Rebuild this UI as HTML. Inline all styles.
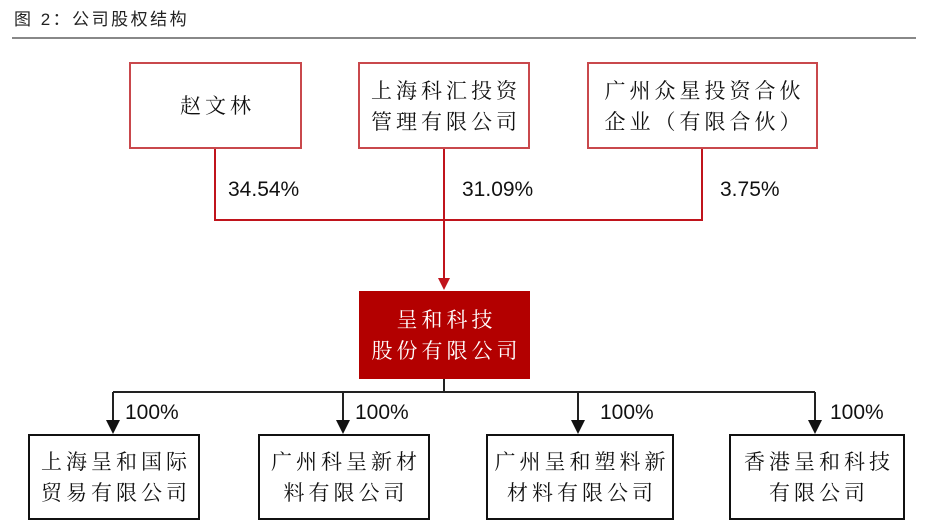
<!DOCTYPE html>
<html><head><meta charset="utf-8"><style>
body{margin:0;width:927px;height:526px;background:#fff;position:relative;overflow:hidden;font-family:"Liberation Sans","Noto Serif CJK SC","Noto Sans CJK SC",serif;}
.t{position:absolute;left:14px;top:5px;font-size:17px;letter-spacing:2.5px;color:#222;font-family:"Liberation Sans","Noto Sans CJK SC",sans-serif;}
.hr{position:absolute;left:12px;top:37px;width:904px;height:2px;background:#888;}
.b{position:absolute;box-sizing:border-box;display:flex;align-items:center;justify-content:center;text-align:center;font-size:21px;line-height:31px;color:#111;letter-spacing:4px;padding-left:4px;white-space:nowrap;font-family:"Noto Serif CJK SC",serif;}
.r{border:2px solid #c9484c;}
.k{border:2px solid #111;}
.p{position:absolute;font-size:21px;color:#111;background:#fff;}
</style></head><body>
<div class="t">图 2：公司股权结构</div>
<div class="hr"></div>
<svg width="927" height="526" style="position:absolute;left:0;top:0">
<g stroke="#c0141c" stroke-width="2" fill="none">
<polyline points="215,148 215,220 702,220 702,148"/>
<line x1="444" y1="148" x2="444" y2="280"/>
</g>
<polygon points="438,278 450,278 444,290" fill="#c0141c"/>
<g stroke="#222" stroke-width="2" fill="none">
<line x1="444" y1="378" x2="444" y2="392"/>
<line x1="113" y1="392" x2="815" y2="392"/>
<line x1="113" y1="392" x2="113" y2="425"/>
<line x1="343" y1="392" x2="343" y2="425"/>
<line x1="578" y1="392" x2="578" y2="425"/>
<line x1="815" y1="392" x2="815" y2="425"/>
</g>
<g fill="#111">
<polygon points="106,420 120,420 113,434"/>
<polygon points="336,420 350,420 343,434"/>
<polygon points="571,420 585,420 578,434"/>
<polygon points="808,420 822,420 815,434"/>
</g>
</svg>
<div class="b r" style="left:129px;top:62px;width:173px;height:87px">赵文林</div>
<div class="b r" style="left:358px;top:62px;width:172px;height:87px">上海科汇投资<br>管理有限公司</div>
<div class="b r" style="left:587px;top:62px;width:231px;height:87px">广州众星投资合伙<br>企业（有限合伙）</div>
<div class="p" style="left:228px;top:178px">34.54%</div>
<div class="p" style="left:462px;top:178px">31.09%</div>
<div class="p" style="left:720px;top:178px">3.75%</div>
<div class="b" style="left:359px;top:291px;width:171px;height:88px;background:#b30000;color:#fff">呈和科技<br>股份有限公司</div>
<div class="p" style="left:125px;top:401px">100%</div>
<div class="p" style="left:355px;top:401px">100%</div>
<div class="p" style="left:600px;top:401px">100%</div>
<div class="p" style="left:830px;top:401px">100%</div>
<div class="b k" style="left:28px;top:434px;width:172px;height:86px">上海呈和国际<br>贸易有限公司</div>
<div class="b k" style="left:258px;top:434px;width:172px;height:86px">广州科呈新材<br>料有限公司</div>
<div class="b k" style="left:486px;top:434px;width:188px;height:86px">广州呈和塑料新<br>材料有限公司</div>
<div class="b k" style="left:729px;top:434px;width:176px;height:86px">香港呈和科技<br>有限公司</div>
</body></html>
